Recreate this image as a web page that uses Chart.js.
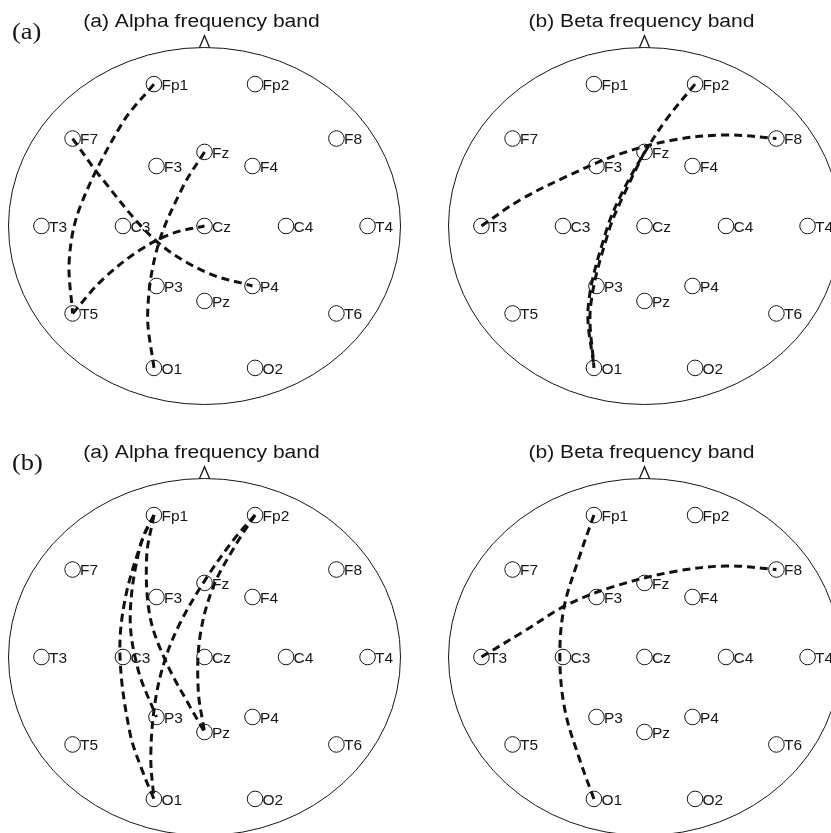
<!DOCTYPE html>
<html>
<head>
<meta charset="utf-8">
<script src="https://cdn.jsdelivr.net/npm/chart.js@4.4.1/dist/chart.umd.min.js"></script>
<style>
  html, body { margin: 0; padding: 0; background: #fff; }
  #wrap { position: relative; width: 831px; height: 833px; overflow: hidden; background: #fff; }
  #wrap canvas { position: absolute; }
</style>
</head>
<body>
<div id="wrap"></div>
<script>
// 10-20 montage on a unit head: x = left/right, y = back/front (nose at +1)
const electrodeNames = ['Fp1','Fp2','F7','F3','Fz','F4','F8','T3','C3','Cz','C4','T4','T5','P3','Pz','P4','T6','O1','O2'];
const electrodeX = [-0.258, 0.258, -0.673, -0.245, 0, 0.245, 0.673, -0.832, -0.416, 0, 0.416, 0.832, -0.673, -0.245, 0, 0.245, 0.673, -0.258, 0.258];
const electrodeY = [0.795, 0.795, 0.49, 0.336, 0.415, 0.336, 0.49, 0, 0, 0, 0, 0, -0.49, -0.336, -0.42, -0.336, -0.49, -0.795, -0.795];

const panelTitles = ['(a) Alpha frequency band', '(b) Beta frequency band', '(a) Alpha frequency band', '(b) Beta frequency band'];
const rowLabels = ['(a)', '(b)'];

// Connections: [from, to, path points the curve passes through]
const linksRowAAlpha = [
  ['Fp1', 'T5', [[-0.42, 0.575], [-0.635, 0.106], [-0.69, -0.19]]],
  ['F7', 'P4', [[-0.53, 0.275], [-0.25, -0.08], [0.01, -0.26]]],
  ['Fz', 'O1', [[-0.11, 0.22], [-0.24, -0.12], [-0.29, -0.49]]],
  ['T5', 'Cz', [[-0.52, -0.30], [-0.33, -0.135], [-0.16, -0.04]]]
];
const linksRowABeta = [
  ['Fp2', 'O1', [[0.11, 0.595], [0.0, 0.41], [-0.108, 0.2], [-0.193, -0.02], [-0.287, -0.45]]],
  ['Fz', 'O1', [[-0.095, 0.2], [-0.18, -0.02], [-0.275, -0.45]]],
  ['T3', 'F8', [[-0.635, 0.146], [-0.4, 0.276], [-0.14, 0.398], [0.147, 0.482], [0.42, 0.51]]]
];
const linksRowBAlpha = [
  ['Fp1', 'O1', [[-0.312, 0.674], [-0.406, 0.319], [-0.431, 0.0], [-0.38, -0.427], [-0.312, -0.652]]],
  ['Fp1', 'P3', [[-0.329, 0.618], [-0.379, 0.226], [-0.338, -0.073]]],
  ['Fp1', 'Pz', [[-0.295, 0.562], [-0.278, 0.226], [-0.193, -0.035], [-0.074, -0.278]]],
  ['Fp2', 'O1', [[0.147, 0.655], [0.003, 0.431], [-0.125, 0.189], [-0.202, -0.017], [-0.253, -0.26], [-0.274, -0.56]]],
  ['Fp2', 'Pz', [[0.164, 0.637], [0.045, 0.394], [-0.023, 0.114], [-0.032, -0.185]]]
];
const linksRowBBeta = [
  ['Fp1', 'O1', [[-0.338, 0.543], [-0.41, 0.28], [-0.432, 0.0], [-0.406, -0.297], [-0.33, -0.577]]],
  ['T3', 'F8', [[-0.618, 0.142], [-0.397, 0.291], [-0.159, 0.394], [0.147, 0.478], [0.419, 0.51]]]
];

// Canvas placement and head size (pixels)
const HEAD_RX = 196, HEAD_RY = 178.5;
const panels = [
  { left: 0,   top: 0,   w: 424, h: 416, cx: 204.5, cy: 226, title: panelTitles[0], row: rowLabels[0], links: linksRowAAlpha },
  { left: 424, top: 0,   w: 407, h: 416, cx: 220.5, cy: 226, title: panelTitles[1], row: null,         links: linksRowABeta },
  { left: 0,   top: 416, w: 424, h: 417, cx: 204.5, cy: 241, title: panelTitles[2], row: rowLabels[1], links: linksRowBAlpha },
  { left: 424, top: 416, w: 407, h: 417, cx: 220.5, cy: 241, title: panelTitles[3], row: null,         links: linksRowBBeta }
];

const INK = '#161616';
const SANS = '"Liberation Sans", Arial, Helvetica, sans-serif';
const SERIF = '"Liberation Serif", "Times New Roman", serif';

function electrodePoint(name) {
  const i = electrodeNames.indexOf(name);
  return { x: electrodeX[i], y: electrodeY[i] };
}

// Head outline, nose, electrode names, titles
const headPlugin = {
  id: 'head',
  beforeDatasetsDraw(chart) {
    const { ctx, scales: { x, y } } = chart;
    const cx = x.getPixelForValue(0), cy = y.getPixelForValue(0);
    const rx = x.getPixelForValue(1) - cx, ry = cy - y.getPixelForValue(1);
    ctx.save();
    ctx.strokeStyle = INK;
    ctx.lineWidth = 1;
    ctx.beginPath();
    ctx.ellipse(cx, cy, rx, ry, 0, 0, Math.PI * 2);
    ctx.stroke();
    ctx.lineWidth = 1.3;
    ctx.beginPath();
    ctx.moveTo(x.getPixelForValue(-0.026), y.getPixelForValue(0.998));
    ctx.lineTo(x.getPixelForValue(0), y.getPixelForValue(1.066));
    ctx.lineTo(x.getPixelForValue(0.026), y.getPixelForValue(0.998));
    ctx.stroke();
    ctx.restore();
  },
  afterDatasetsDraw(chart, args, opts) {
    const { ctx, scales: { x, y } } = chart;
    const meta = chart.getDatasetMeta(0);
    ctx.save();
    ctx.fillStyle = INK;
    ctx.font = '15.5px ' + SANS;
    ctx.textAlign = 'left';
    ctx.textBaseline = 'alphabetic';
    meta.data.forEach((pt, i) => {
      ctx.fillText(electrodeNames[i], pt.x + 7.5, pt.y + 5.6);
    });
    const headTop = y.getPixelForValue(1);
    ctx.font = '18px ' + SANS;
    ctx.textAlign = 'center';
    ctx.translate(x.getPixelForValue(0) - 3, headTop - 21);
    ctx.scale(1.17, 1);
    ctx.fillText(opts.title, 0, 0);
    ctx.restore();
    if (opts.row) {
      ctx.save();
      ctx.fillStyle = INK;
      ctx.font = '23px ' + SERIF;
      ctx.textAlign = 'left';
      ctx.translate(12, headTop - 8.5);
      ctx.scale(1.15, 1);
      ctx.fillText(opts.row, 0, 0);
      ctx.restore();
    }
  }
};

const wrap = document.getElementById('wrap');
panels.forEach(p => {
  const canvas = document.createElement('canvas');
  canvas.width = p.w;
  canvas.height = p.h;
  canvas.style.left = p.left + 'px';
  canvas.style.top = p.top + 'px';
  canvas.style.width = p.w + 'px';
  canvas.style.height = p.h + 'px';
  wrap.appendChild(canvas);

  const datasets = [{
    label: 'electrodes',
    data: electrodeNames.map(electrodePoint),
    showLine: false,
    pointStyle: 'circle',
    pointRadius: 7.8,
    pointHoverRadius: 7.8,
    pointBackgroundColor: 'rgba(0,0,0,0)',
    pointBorderColor: INK,
    pointBorderWidth: 1
  }];
  p.links.forEach(([from, to, via]) => {
    datasets.push({
      label: from + '-' + to,
      data: [electrodePoint(from), ...via.map(([vx, vy]) => ({ x: vx, y: vy })), electrodePoint(to)],
      showLine: true,
      fill: false,
      borderColor: '#111',
      borderWidth: 3,
      borderDash: [8, 5],
      borderCapStyle: 'butt',
      tension: 0.35,
      pointRadius: 0,
      pointHoverRadius: 0
    });
  });

  new Chart(canvas, {
    type: 'scatter',
    data: { datasets },
    options: {
      responsive: false,
      animation: false,
      devicePixelRatio: 1,
      layout: { padding: 0, autoPadding: false },
      events: [],
      scales: {
        x: { type: 'linear', display: false, min: -p.cx / HEAD_RX, max: (p.w - p.cx) / HEAD_RX },
        y: { type: 'linear', display: false, min: -(p.h - p.cy) / HEAD_RY, max: p.cy / HEAD_RY }
      },
      plugins: {
        legend: { display: false },
        tooltip: { enabled: false },
        head: { title: p.title, row: p.row }
      }
    },
    plugins: [headPlugin]
  });
});
</script>
</body>
</html>
